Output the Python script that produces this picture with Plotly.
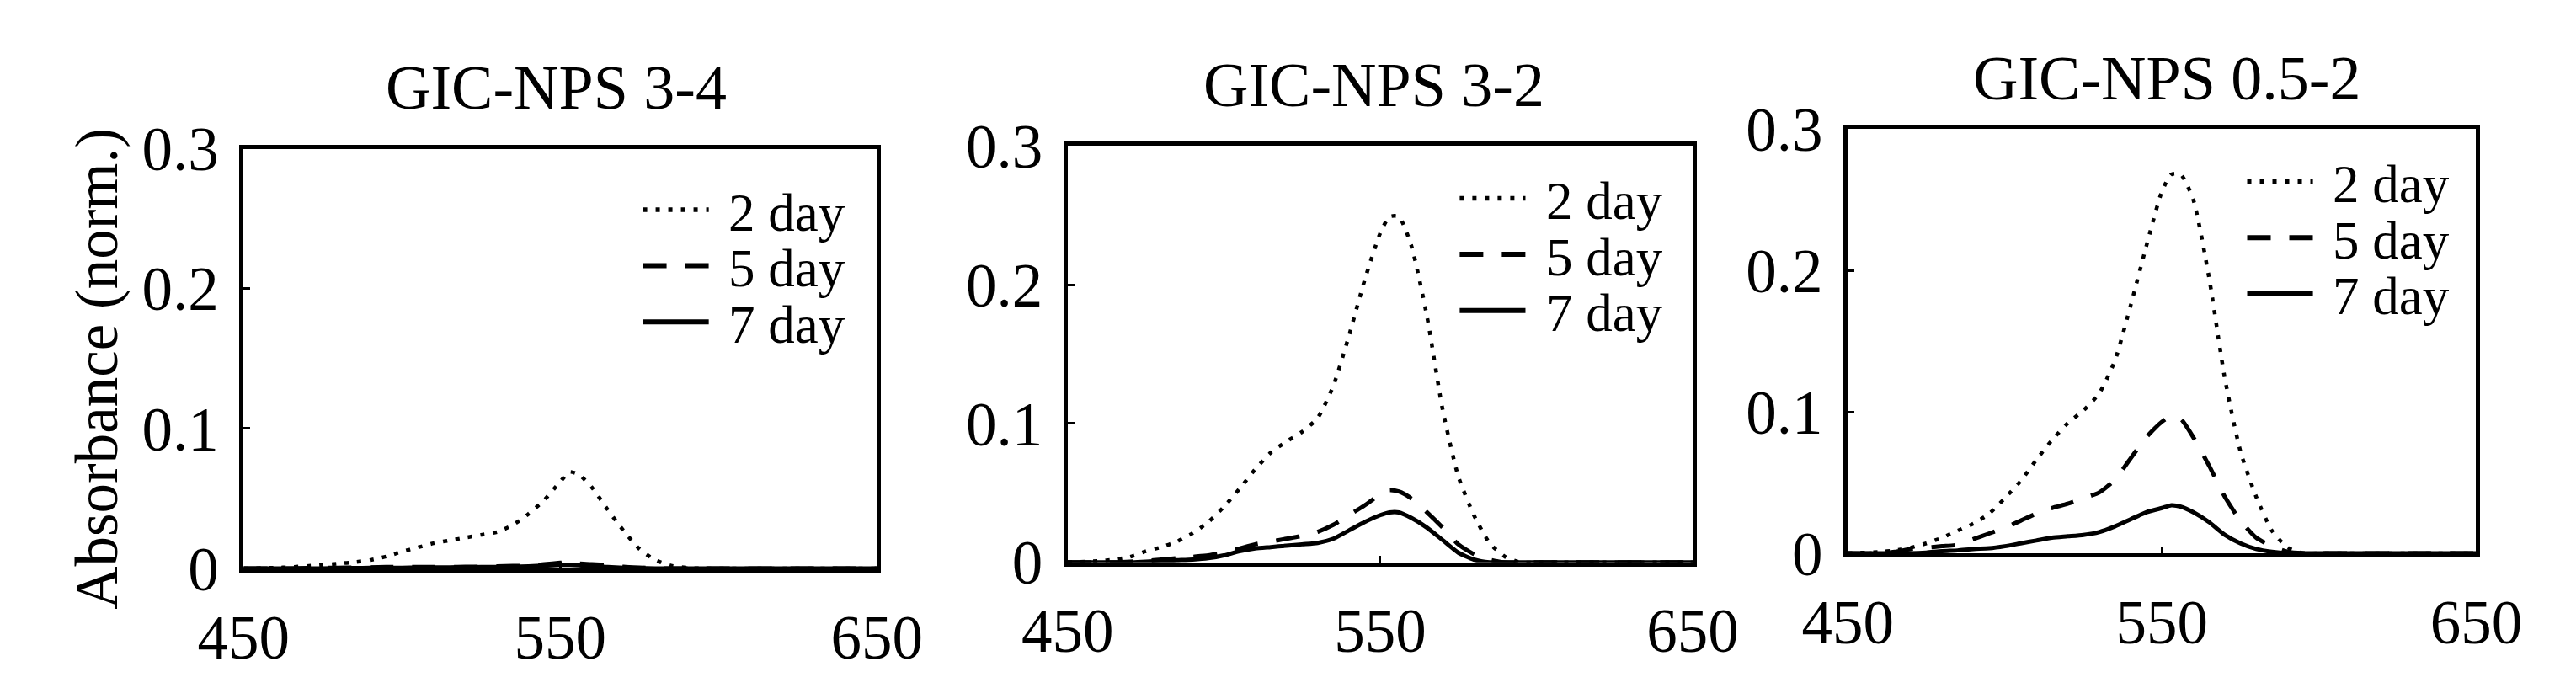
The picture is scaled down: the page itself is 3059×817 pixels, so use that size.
import plotly.graph_objects as go

# ---------------- data ----------------
wavelength = [450, 460, 465, 470, 475, 480, 485, 490, 495, 500, 505, 510, 515, 520, 525,
              530, 535, 540, 545, 550, 553, 556, 560, 565, 570, 575, 580, 585, 590, 595, 600, 650]

panel_titles = ["GIC-NPS 3-4", "GIC-NPS 3-2", "GIC-NPS 0.5-2"]
series_names = ["2 day", "5 day", "7 day"]

p1_day2 = [0, 0.0005, 0.001, 0.0017, 0.0025, 0.0035, 0.0045, 0.006, 0.0085, 0.012, 0.015, 0.018, 0.020, 0.022, 0.024,
           0.026, 0.031, 0.039, 0.049, 0.062, 0.069, 0.067, 0.058, 0.042, 0.027, 0.014, 0.006, 0.002, 0.0005, 0, 0, 0]
p1_day5 = [0, 0, 0, 0.0003, 0.0005, 0.0005, 0.0007, 0.0008, 0.001, 0.001, 0.001, 0.001, 0.001, 0.0012, 0.0013,
           0.0015, 0.0018, 0.002, 0.003, 0.004, 0.0045, 0.0035, 0.003, 0.0025, 0.0012, 0.0006, 0.0002, 0, 0, 0, 0, 0]
p1_day7 = [0, 0, 0, 0, 0, 0.0002, 0.0003, 0.0004, 0.0005, 0.0005, 0.0006, 0.0007, 0.0008, 0.0009, 0.001,
           0.001, 0.0012, 0.0015, 0.002, 0.0025, 0.0025, 0.0022, 0.0015, 0.001, 0.0005, 0.0002, 0, 0, 0, 0, 0, 0]

p2_day2 = [0, 0.001, 0.002, 0.004, 0.008, 0.011, 0.015, 0.021, 0.029, 0.040, 0.053, 0.067, 0.079, 0.087, 0.094,
           0.104, 0.127, 0.163, 0.203, 0.237, 0.249, 0.249, 0.228, 0.177, 0.110, 0.062, 0.034, 0.014, 0.004, 0, 0, 0]
p2_day5 = [0, 0, 0, 0.0005, 0.001, 0.002, 0.003, 0.004, 0.005, 0.007, 0.010, 0.013, 0.015, 0.017, 0.019,
           0.022, 0.027, 0.034, 0.041, 0.049, 0.052, 0.051, 0.046, 0.036, 0.025, 0.013, 0.006, 0.002, 0, 0, 0, 0]
p2_day7 = [0, 0, 0, 0, 0.0005, 0.001, 0.0015, 0.002, 0.003, 0.005, 0.008, 0.010, 0.011, 0.012, 0.013,
           0.014, 0.017, 0.023, 0.029, 0.034, 0.036, 0.036, 0.032, 0.025, 0.016, 0.007, 0.002, 0, 0, 0, 0, 0]

p3_day2 = [0, 0.001, 0.002, 0.004, 0.007, 0.011, 0.016, 0.021, 0.028, 0.039, 0.051, 0.066, 0.080, 0.092, 0.101,
           0.113, 0.136, 0.175, 0.217, 0.256, 0.268, 0.268, 0.250, 0.195, 0.124, 0.072, 0.040, 0.016, 0.004, 0, 0, 0]
p3_day5 = [0, 0, 0.001, 0.003, 0.004, 0.005, 0.006, 0.010, 0.014, 0.018, 0.023, 0.028, 0.032, 0.035, 0.039,
           0.043, 0.052, 0.067, 0.082, 0.093, 0.097, 0.095, 0.082, 0.062, 0.040, 0.023, 0.011, 0.005, 0.001, 0, 0, 0]
p3_day7 = [0, 0, 0, 0, 0.0005, 0.0015, 0.002, 0.003, 0.0035, 0.005, 0.007, 0.009, 0.011, 0.012, 0.013,
           0.015, 0.019, 0.024, 0.029, 0.032, 0.034, 0.033, 0.029, 0.022, 0.013, 0.007, 0.003, 0.001, 0, 0, 0, 0]

x_ticks = [450, 550, 650]
y_ticks = [0, 0.1, 0.2, 0.3]
y_ticktext = ["0", "0.1", "0.2", "0.3"]

panels = [
    [p1_day2, p1_day5, p1_day7],
    [p2_day2, p2_day5, p2_day7],
    [p3_day2, p3_day5, p3_day7],
]

# ---------------- layout geometry (pixels) ----------------
W, H = 3059, 817
FONT = "Liberation Serif, Times New Roman, serif"
# plot boxes: left, right, top, bottom
boxes = [(243, 1023, 153, 706), (1258, 2028, 149, 698), (2219, 2993, 127, 686)]
title_pos = [(628, 72), (1635, 69), (2612, 60)]
# legend geometry: key x0, key x1, text x, row ys
legend_geo = [
    (735, 816, 839, [233, 307, 381]),
    (1741, 1822, 1846, [218, 292, 366]),
    (2711, 2792, 2815, [196, 270, 344]),
]
dash_styles = ["5px,10px", "28px,22px", "solid"]
widths = [4.5, 5, 5]


def px_x(v):
    return v / W


def px_y(v):
    return 1 - v / H


fig = go.Figure()
shapes = []
annotations = []

for i, (series_list, box) in enumerate(zip(panels, boxes)):
    axn = "" if i == 0 else str(i + 1)
    for j, (vals, name) in enumerate(zip(series_list, series_names)):
        fig.add_trace(go.Scatter(
            x=wavelength, y=vals, mode="lines", name=name,
            xaxis="x" + axn, yaxis="y" + axn, showlegend=False,
            line=dict(color="black", width=widths[j], dash=dash_styles[j], shape="spline", smoothing=0.6),
        ))
    l, r, t, b = box
    common = dict(showline=True, mirror=True, linecolor="black", linewidth=5,
                  showgrid=False, zeroline=False, ticks="inside", ticklen=8, tickwidth=3,
                  tickcolor="black", tickfont=dict(family=FONT, size=73, color="black"))
    fig.update_layout(**{
        "xaxis" + axn: dict(domain=[px_x(l), px_x(r)], range=[450, 650], tickvals=x_ticks,
                            anchor="y" + axn, ticklabelstandoff=14, **common),
        "yaxis" + axn: dict(domain=[px_y(b), px_y(t)], range=[0, 0.3], tickvals=y_ticks,
                            ticktext=y_ticktext, anchor="x" + axn, ticklabelstandoff=10, **common),
    })
    tx, ty = title_pos[i]
    annotations.append(dict(text=panel_titles[i], x=px_x(tx), y=px_y(ty), xref="paper", yref="paper",
                            xanchor="center", yanchor="middle", showarrow=False, borderpad=0,
                            font=dict(family=FONT, size=74, color="black")))
    k0, k1, txx, rows = legend_geo[i]
    for j, ry in enumerate(rows):
        shapes.append(dict(type="line", xref="paper", yref="paper",
                           x0=px_x(k0), x1=px_x(k1), y0=px_y(ry), y1=px_y(ry),
                           line=dict(color="black", width=widths[j] + 1, dash=dash_styles[j])))
        annotations.append(dict(text=series_names[j], x=px_x(txx), y=px_y(ry + 4), xref="paper", yref="paper",
                                xanchor="left", yanchor="middle", showarrow=False, borderpad=0,
                                font=dict(family=FONT, size=63, color="black")))

annotations.append(dict(text="Absorbance (norm.)", x=px_x(62), y=px_y(443), xref="paper", yref="paper",
                        xanchor="center", yanchor="middle", textangle=-90, showarrow=False, borderpad=0,
                        font=dict(family=FONT, size=71, color="black")))

fig.update_layout(width=W, height=H, margin=dict(l=0, r=0, t=0, b=0),
                  paper_bgcolor="white", plot_bgcolor="white",
                  shapes=shapes, annotations=annotations, showlegend=False)

fig.write_html("out.html")
